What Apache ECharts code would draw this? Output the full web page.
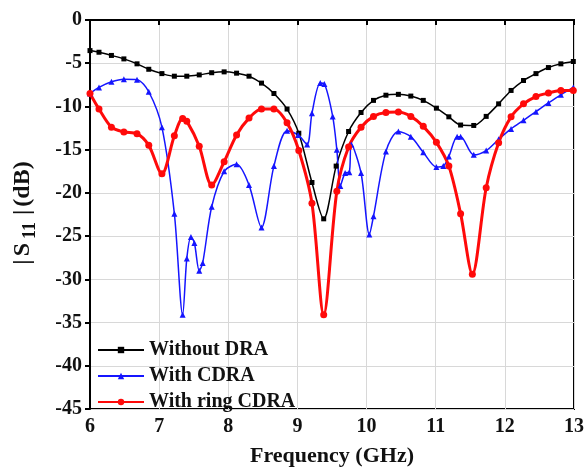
<!DOCTYPE html>
<html>
<head>
<meta charset="utf-8">
<script src="https://cdn.jsdelivr.net/npm/echarts@6/dist/echarts.min.js"></script>
<style>
html,body{margin:0;padding:0;background:#fff;}
#chart{width:587px;height:472px;}
</style>
</head>
<body>
<div id="chart"></div>
<script>
var seriesNames = ['Without DRA', 'With CDRA', 'With ring CDRA'];
var xTicks = [6, 7, 8, 9, 10, 11, 12, 13];
var yTicks = [0, -5, -10, -15, -20, -25, -30, -35, -40, -45];

var freqBlack = [6.00,6.13,6.31,6.49,6.68,6.85,7.04,7.22,7.40,7.58,7.76,7.94,8.12,8.30,8.48,8.66,8.85,9.02,9.21,9.38,9.56,9.74,9.92,10.10,10.28,10.46,10.64,10.82,11.01,11.19,11.36,11.55,11.73,11.91,12.09,12.27,12.45,12.63,12.81,12.99];
var s11Black = [-3.54,-3.73,-4.1,-4.5,-5.07,-5.7,-6.2,-6.5,-6.5,-6.35,-6.1,-6.0,-6.15,-6.5,-7.3,-8.5,-10.3,-13.1,-18.8,-23.0,-16.9,-12.9,-10.7,-9.3,-8.7,-8.6,-8.8,-9.3,-10.2,-11.2,-12.15,-12.2,-11.15,-9.7,-8.15,-7.0,-6.2,-5.5,-5.07,-4.8];

var freqBlue = [6.00,6.13,6.31,6.49,6.68,6.85,7.04,7.22,7.34,7.40,7.46,7.51,7.58,7.63,7.76,7.94,8.12,8.30,8.48,8.66,8.85,9.01,9.14,9.21,9.33,9.39,9.51,9.57,9.62,9.69,9.75,9.78,9.92,10.04,10.10,10.28,10.46,10.64,10.82,11.01,11.11,11.19,11.31,11.36,11.55,11.73,11.91,12.09,12.27,12.45,12.63,12.81,12.99];
var s11Blue = [-8.5,-7.8,-7.15,-6.85,-6.9,-8.3,-12.4,-22.4,-34.1,-27.6,-25.1,-25.8,-29.0,-28.1,-21.6,-17.5,-16.7,-19.1,-24.0,-16.9,-12.8,-13.3,-14.4,-10.8,-7.3,-7.4,-11.15,-15.0,-19.2,-17.7,-17.6,-14.4,-17.7,-24.8,-22.7,-15.2,-12.9,-13.5,-15.3,-17.0,-16.9,-15.8,-13.5,-13.5,-15.6,-15.1,-13.8,-12.6,-11.6,-10.6,-9.6,-8.65,-7.8];

var freqRed = [6.00,6.13,6.31,6.49,6.68,6.85,7.04,7.22,7.34,7.40,7.58,7.76,7.94,8.12,8.30,8.48,8.66,8.85,9.02,9.21,9.38,9.57,9.74,9.92,10.10,10.28,10.46,10.64,10.82,11.01,11.19,11.36,11.53,11.73,11.91,12.09,12.27,12.45,12.63,12.81,12.99];
var s11Red = [-8.5,-10.3,-12.4,-12.95,-13.15,-14.5,-17.8,-13.4,-11.4,-11.7,-14.6,-19.1,-16.4,-13.3,-11.35,-10.3,-10.3,-11.9,-15.1,-21.2,-34.1,-19.8,-14.7,-12.4,-11.15,-10.7,-10.65,-11.15,-12.3,-14.15,-16.9,-22.4,-29.4,-19.4,-14.2,-11.2,-9.7,-8.85,-8.45,-8.15,-8.15];

function zip(a, b) { return a.map(function (v, i) { return [v, b[i]]; }); }

var FONT = '"Liberation Serif","Times New Roman",serif';
var chart = echarts.init(document.getElementById('chart'), null, {renderer: 'canvas'});
chart.setOption({
  animation: false,
  backgroundColor: '#fff',
  grid: {left: 90, right: 13, top: 20, bottom: 62, show: true, borderColor: '#000', borderWidth: 2, backgroundColor: 'transparent'},
  legend: {
    orient: 'vertical', left: 92, top: 335,
    itemWidth: 46, itemHeight: 8, itemGap: 6,
    textStyle: {fontFamily: FONT, fontWeight: 'bold', fontSize: 20, lineHeight: 20, color: '#111'},
    data: seriesNames
  },
  xAxis: {
    type: 'value', min: xTicks[0], max: xTicks[xTicks.length - 1], interval: 1,
    name: 'Frequency (GHz)', nameLocation: 'middle', nameGap: 36,
    nameTextStyle: {fontFamily: FONT, fontWeight: 'bold', fontSize: 22, color: '#111'},
    axisLine: {lineStyle: {color: '#000', width: 2}},
    axisTick: {show: true, inside: false, length: 5, lineStyle: {color: '#000', width: 2}},
    axisLabel: {fontFamily: FONT, fontWeight: 'bold', fontSize: 20, color: '#111', margin: 8},
    splitLine: {show: true, lineStyle: {color: '#d8d8d8', width: 1}}
  },
  yAxis: {
    type: 'value', min: yTicks[yTicks.length - 1], max: yTicks[0], interval: 5,
    name: '{p||}{a|S}{sub|11}{p||}{a|(dB)}', nameLocation: 'middle', nameGap: 48, nameRotate: 90,
    nameTextStyle: {fontFamily: FONT, fontWeight: 'bold', fontSize: 24, color: '#111',
      rich: {
        a: {fontFamily: FONT, fontWeight: 'bold', fontSize: 24, color: '#111', padding: [0, 0, 7, 0]},
        p: {fontFamily: FONT, fontWeight: 'bold', fontSize: 24, color: '#111', padding: [0, 3, 7, 3]},
        sub: {fontFamily: FONT, fontWeight: 'bold', fontSize: 18, color: '#111', padding: [7, 4, 0, 4]}
      }},
    axisLine: {lineStyle: {color: '#000', width: 2}},
    axisTick: {show: true, inside: false, length: 5, lineStyle: {color: '#000', width: 2}},
    axisLabel: {fontFamily: FONT, fontWeight: 'bold', fontSize: 20, color: '#111', margin: 8},
    splitLine: {show: true, lineStyle: {color: '#d8d8d8', width: 1}}
  },
  series: [
    {name: seriesNames[0], type: 'line', data: zip(freqBlack, s11Black), smooth: 0.3,
      symbol: 'rect', symbolSize: 5, showAllSymbol: true,
      lineStyle: {color: '#000', width: 1.5}, itemStyle: {color: '#000'}},
    {name: seriesNames[1], type: 'line', data: zip(freqBlue, s11Blue), smooth: 0.3,
      symbol: 'triangle', symbolSize: 6, showAllSymbol: true,
      lineStyle: {color: '#1515ff', width: 1.5}, itemStyle: {color: '#1515ff'}},
    {name: seriesNames[2], type: 'line', data: zip(freqRed, s11Red), smooth: 0.3,
      symbol: 'circle', symbolSize: 7, showAllSymbol: true,
      lineStyle: {color: '#ff0a0a', width: 3}, itemStyle: {color: '#ff0a0a'}}
  ]
});
</script>
</body>
</html>
